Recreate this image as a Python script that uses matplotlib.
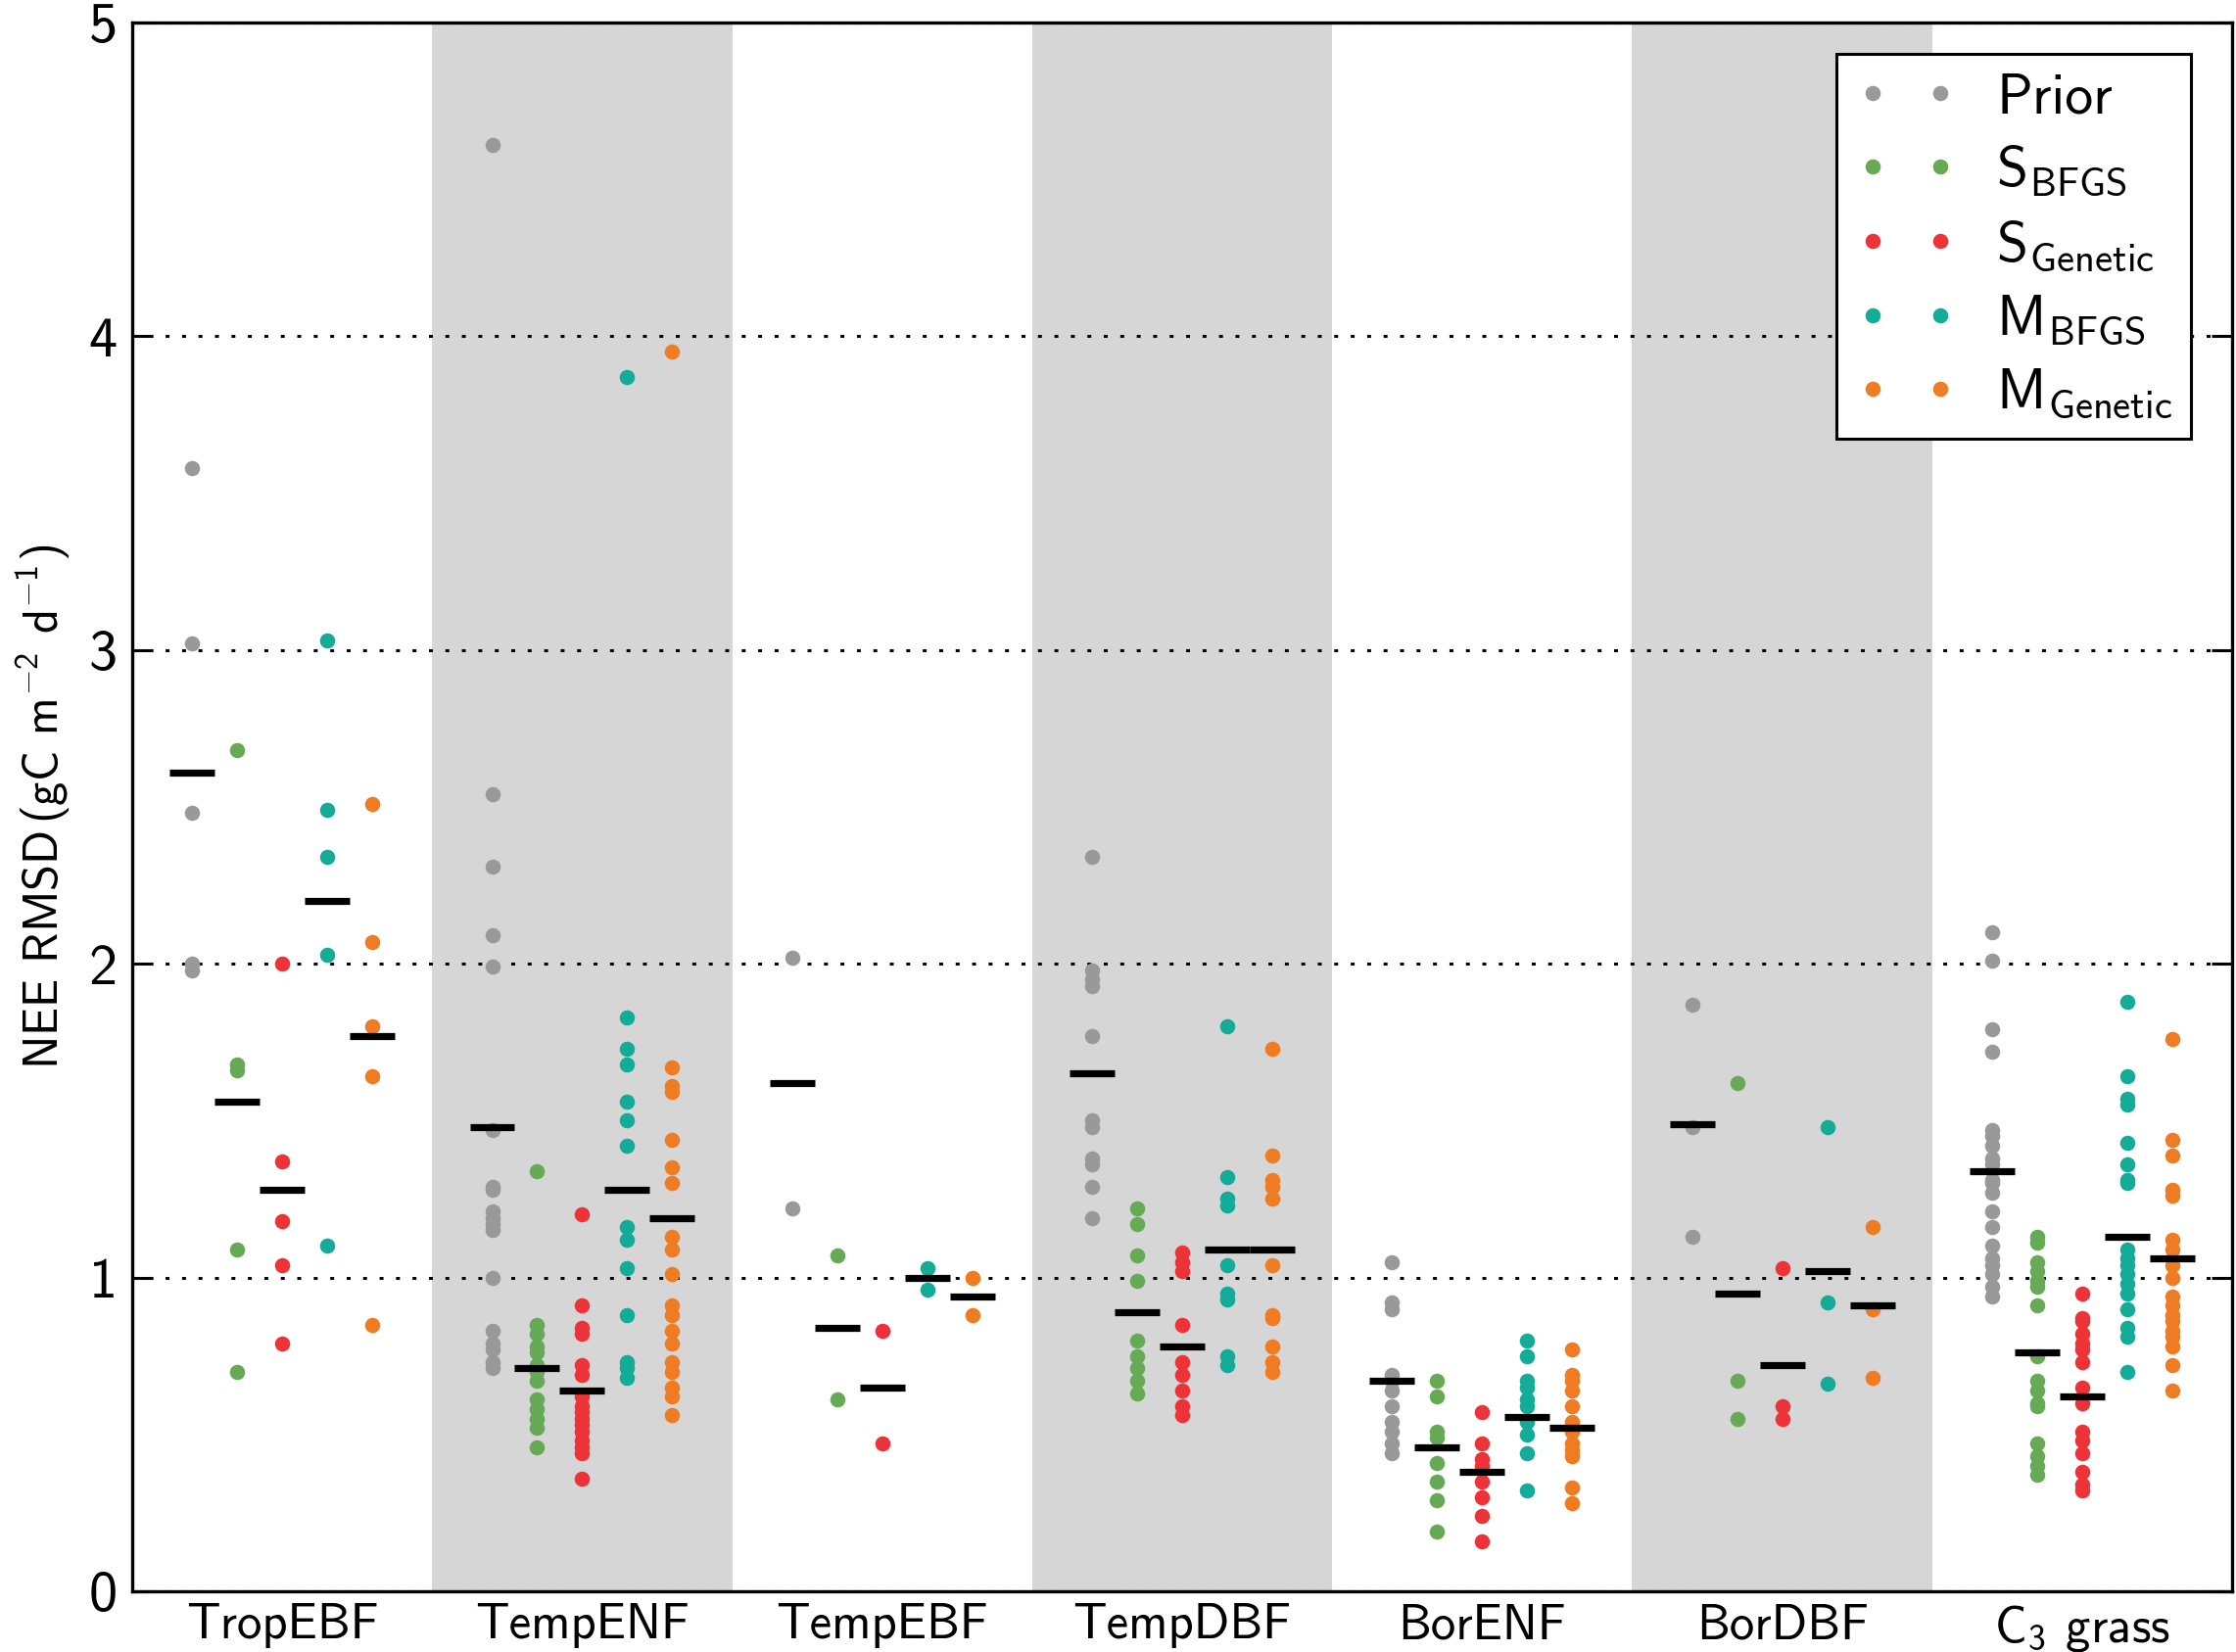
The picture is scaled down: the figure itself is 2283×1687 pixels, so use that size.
import numpy as np
import matplotlib
matplotlib.use("Agg")
import matplotlib.pyplot as plt

plt.rcParams['font.family'] = 'cmss10'
plt.rcParams['mathtext.fontset'] = 'custom'
plt.rcParams['mathtext.rm'] = 'cmss10'
plt.rcParams['mathtext.it'] = 'cmss10'
plt.rcParams['mathtext.bf'] = 'cmss10'
plt.rcParams['mathtext.sf'] = 'cmss10'
plt.rcParams['axes.unicode_minus'] = False

pfts = ['TropEBF', 'TempENF', 'TempEBF', 'TempDBF', 'BorENF', 'BorDBF', r'C$_3$ grass']

labels = ['Prior', r'S$_\mathrm{BFGS}$', r'S$_\mathrm{Genetic}$',
          r'M$_\mathrm{BFGS}$', r'M$_\mathrm{Genetic}$']
colors = ['#999999', '#66aa55', '#ee3338', '#14ab99', '#ef7b22']

# NEE RMSD per site, one list per PFT
prior = [
    [3.58, 3.02, 2.48, 2.00, 1.98],
    [4.61, 2.54, 2.31, 2.09, 1.99, 1.47, 1.29, 1.28, 1.21, 1.19, 1.17, 1.15,
     1.00, 0.83, 0.79, 0.77, 0.73, 0.71],
    [2.02, 1.22],
    [2.34, 1.98, 1.95, 1.93, 1.77, 1.50, 1.48, 1.38, 1.36, 1.29, 1.19],
    [1.05, 0.92, 0.90, 0.69, 0.67, 0.64, 0.59, 0.54, 0.51, 0.47, 0.44],
    [1.87, 1.48, 1.13],
    [2.10, 2.01, 1.79, 1.72, 1.47, 1.45, 1.42, 1.38, 1.36, 1.31, 1.30, 1.27,
     1.21, 1.16, 1.10, 1.06, 1.04, 1.01, 0.97, 0.94],
]
s_bfgs = [
    [2.68, 1.68, 1.66, 1.09, 0.70],
    [1.34, 0.85, 0.82, 0.78, 0.76, 0.72, 0.70, 0.67, 0.61, 0.58, 0.55, 0.52, 0.46],
    [1.07, 0.61],
    [1.22, 1.17, 1.07, 0.99, 0.80, 0.75, 0.71, 0.67, 0.63],
    [0.67, 0.62, 0.51, 0.49, 0.41, 0.35, 0.29, 0.19],
    [1.62, 0.67, 0.55],
    [1.13, 1.11, 1.05, 1.02, 0.99, 0.97, 0.91, 0.75, 0.67, 0.64, 0.60, 0.59,
     0.47, 0.43, 0.40, 0.37],
]
s_genetic = [
    [2.00, 1.37, 1.18, 1.04, 0.79],
    [1.20, 0.91, 0.84, 0.82, 0.72, 0.69, 0.62, 0.59, 0.57, 0.55, 0.53, 0.51,
     0.48, 0.46, 0.44, 0.36],
    [0.83, 0.47],
    [1.08, 1.05, 1.02, 0.85, 0.73, 0.69, 0.64, 0.59, 0.56],
    [0.57, 0.47, 0.42, 0.40, 0.35, 0.30, 0.24, 0.16],
    [1.03, 0.59, 0.55],
    [0.95, 0.87, 0.86, 0.82, 0.79, 0.77, 0.73, 0.65, 0.60, 0.51, 0.48, 0.44,
     0.38, 0.34, 0.32],
]
m_bfgs = [
    [3.03, 2.49, 2.34, 2.03, 1.10],
    [3.87, 1.83, 1.73, 1.68, 1.56, 1.50, 1.42, 1.16, 1.12, 1.03, 0.88, 0.73,
     0.71, 0.68],
    [1.03, 0.96],
    [1.80, 1.32, 1.25, 1.23, 1.04, 0.95, 0.93, 0.75, 0.72],
    [0.80, 0.75, 0.67, 0.65, 0.61, 0.59, 0.54, 0.50, 0.44, 0.32],
    [1.48, 0.92, 0.66],
    [1.88, 1.64, 1.57, 1.55, 1.43, 1.36, 1.31, 1.30, 1.09, 1.06, 1.04, 1.01,
     0.98, 0.95, 0.90, 0.84, 0.81, 0.70],
]
m_genetic = [
    [2.51, 2.07, 1.80, 1.64, 0.85],
    [3.95, 1.67, 1.61, 1.59, 1.44, 1.35, 1.30, 1.13, 1.09, 1.01, 0.91, 0.88,
     0.83, 0.79, 0.73, 0.70, 0.65, 0.62, 0.56],
    [1.00, 0.88],
    [1.73, 1.39, 1.31, 1.29, 1.25, 1.04, 0.88, 0.87, 0.78, 0.73, 0.70],
    [0.77, 0.69, 0.67, 0.64, 0.59, 0.54, 0.51, 0.47, 0.45, 0.43, 0.33, 0.28],
    [1.16, 0.90, 0.68],
    [1.76, 1.44, 1.39, 1.28, 1.26, 1.12, 1.09, 1.04, 1.00, 0.94, 0.91, 0.88,
     0.86, 0.83, 0.81, 0.78, 0.72, 0.64],
]

# mean bars
prior_mean = [2.61, 1.48, 1.62, 1.65, 0.67, 1.49, 1.34]
s_bfgs_mean = [1.56, 0.71, 0.84, 0.89, 0.46, 0.95, 0.76]
s_genetic_mean = [1.28, 0.64, 0.65, 0.78, 0.38, 0.72, 0.62]
m_bfgs_mean = [2.20, 1.28, 1.00, 1.09, 0.555, 1.02, 1.13]
m_genetic_mean = [1.77, 1.19, 0.94, 1.09, 0.52, 0.91, 1.06]

series = [prior, s_bfgs, s_genetic, m_bfgs, m_genetic]
means = [prior_mean, s_bfgs_mean, s_genetic_mean, m_bfgs_mean, m_genetic_mean]
offsets = [-0.3, -0.15, 0.0, 0.15, 0.3]

fig = plt.figure(figsize=(2283 / 200, 1687 / 200), dpi=200)
ax = fig.add_axes([0.0591, 0.0368, 0.9392, 0.9496])

for i in range(len(pfts)):
    if i % 2 == 1:
        ax.axvspan(i - 0.5, i + 0.5, color='#d6d6d6', lw=0, zorder=0)

for s, (data, mdata, off, col, lab) in enumerate(zip(series, means, offsets, colors, labels)):
    for i, vals in enumerate(data):
        x = np.full(len(vals), i + off)
        ax.plot(x, vals, 'o', ls='none', color=col, ms=5.6, mew=0,
                label=lab if i == 0 else None, zorder=3)
    xs = np.arange(len(pfts)) + off
    ax.hlines(mdata, xs - 0.075, xs + 0.075, colors='k', lw=2.6, zorder=4)

ax.set_xlim(-0.5, len(pfts) - 0.5)
ax.set_ylim(0, 5)
ax.set_xticks(np.arange(len(pfts)))
ax.set_xticklabels(pfts, fontsize=18.3)
ax.set_yticks([0, 1, 2, 3, 4, 5])
ax.tick_params(axis='y', direction='in', length=7.5, width=1.1, labelsize=21,
               pad=5.5, left=True, right=True)
ax.tick_params(axis='x', length=0, pad=4.5)
ax.yaxis.grid(True, color='k', lw=1.1, linestyle=(0, (1.3, 4.2)))
for sp in ax.spines.values():
    sp.set_linewidth(1.2)

ax.set_ylabel(r'NEE RMSD$\,$(gC m$^{-2}$ d$^{-1}$)', fontsize=17.5, labelpad=6)

leg = ax.legend(loc='upper right', bbox_to_anchor=(0.9804, 0.980), borderaxespad=0,
                numpoints=2, fontsize=20.8, fancybox=False, framealpha=1,
                edgecolor='k', handlelength=1.8, borderpad=0.33, labelspacing=0.36,
                handletextpad=0.69)
leg.get_frame().set_linewidth(1.1)

fig.savefig('out.png', dpi=200)
